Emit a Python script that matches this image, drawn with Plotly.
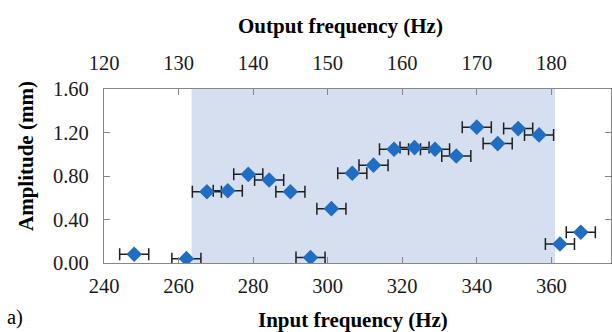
import plotly.graph_objects as go

# Data
input_freq = [248.1, 262.1, 267.6, 273.2, 278.7, 284.3, 290.0, 295.4, 301.0, 306.6, 312.3,
              317.8, 323.3, 328.8, 334.5, 340.0, 345.6, 351.1, 356.7, 362.3, 367.9]
amplitude = [0.08, 0.04, 0.655, 0.664, 0.815, 0.763, 0.655, 0.05, 0.50, 0.825, 0.90,
             1.046, 1.061, 1.046, 0.984, 1.249, 1.098, 1.236, 1.178, 0.175, 0.283]
freq_err = [3.9] * len(input_freq)

band_start = 263.5
band_end = 361.0

x_ticks = [240, 260, 280, 300, 320, 340, 360]
top_ticks = [120, 130, 140, 150, 160, 170, 180]
y_ticks = [0.0, 0.4, 0.8, 1.2, 1.6]

x_range = [240, 376]
top_range = [x_range[0] / 2, x_range[1] / 2]
y_range = [0, 1.6]

FONT = "Liberation Serif, Times New Roman, serif"
AXIS_COLOR = "#878787"
TICK_SIZE = 20.5
TITLE_SIZE = 21

fig = go.Figure()

fig.add_trace(go.Scatter(
    x=input_freq, y=amplitude, mode="markers",
    marker=dict(symbol="diamond", size=12, color="#1F6EC4", line=dict(width=0)),
    error_x=dict(type="data", array=freq_err, visible=True, color="#1f1f1f",
                 thickness=1.5, width=6),
    showlegend=False, hoverinfo="x+y",
))

# invisible trace to carry the top (output frequency) axis
fig.add_trace(go.Scatter(
    x=top_ticks, y=[0.8] * len(top_ticks), xaxis="x2", mode="markers",
    marker=dict(opacity=0), showlegend=False, hoverinfo="skip",
))

fig.add_shape(type="rect", xref="x", yref="paper", x0=band_start, x1=band_end,
              y0=0, y1=1, fillcolor="#D5DFF0", line=dict(width=0), layer="below")

common = dict(showgrid=False, zeroline=False, showline=True, linecolor=AXIS_COLOR,
              linewidth=1.2, ticks="inside", ticklen=6, tickcolor=AXIS_COLOR, tickwidth=1,
              tickfont=dict(family=FONT, size=TICK_SIZE, color="#1a1a1a"))

fig.update_layout(
    width=612, height=332,
    margin=dict(l=104, r=1, t=89, b=69),
    paper_bgcolor="white", plot_bgcolor="white",
    xaxis=dict(range=x_range, tickvals=x_ticks, mirror=True, ticklabelstandoff=4, **common),
    xaxis2=dict(range=top_range, tickvals=top_ticks, overlaying="x", side="top",
                ticklabelstandoff=10, **common),
    yaxis=dict(range=y_range, tickvals=y_ticks, tickformat=".2f", mirror="ticks",
               ticklabelstandoff=10, **common),
    annotations=[
        dict(text="<b>Output frequency (Hz)</b>", xref="paper", yref="paper",
             x=(340 - 104) / 507, y=(263 - 26) / 174, xanchor="center", yanchor="middle",
             showarrow=False, font=dict(family=FONT, size=TITLE_SIZE, color="black")),
        dict(text="<b>Input frequency (Hz)</b>", xref="paper", yref="paper",
             x=(353 - 104) / 507, y=(263 - 319.5) / 174, xanchor="center", yanchor="middle",
             showarrow=False, font=dict(family=FONT, size=TITLE_SIZE, color="black")),
        dict(text="<b>Amplitude (mm)</b>", xref="paper", yref="paper", textangle=-90,
             x=(26 - 104) / 507, y=(263 - 156) / 174, xanchor="center", yanchor="middle",
             showarrow=False, font=dict(family=FONT, size=TITLE_SIZE, color="black")),
        dict(text="a)", xref="paper", yref="paper",
             x=(5 - 104) / 507, y=(263 - 331) / 174, xanchor="left", yanchor="bottom",
             showarrow=False, font=dict(family=FONT, size=TICK_SIZE, color="black")),
    ],
)

fig.write_html("out.html")
